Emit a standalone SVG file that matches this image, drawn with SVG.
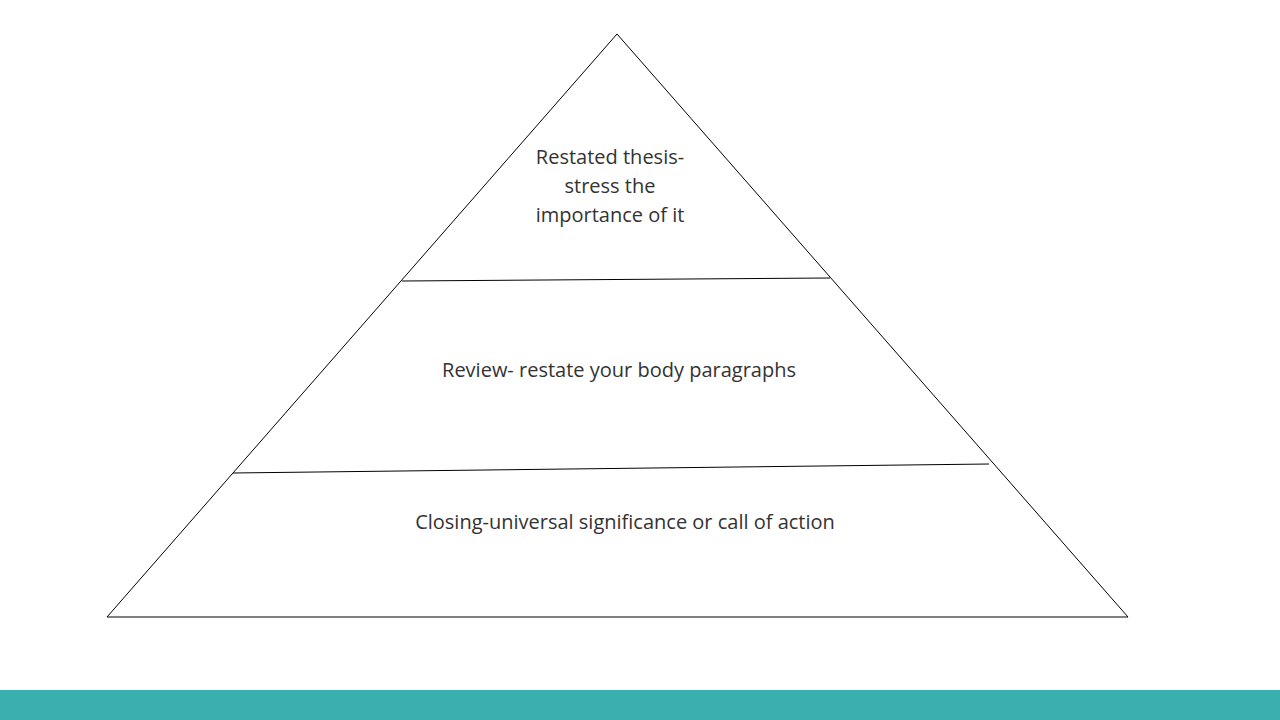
<svg xmlns="http://www.w3.org/2000/svg" width="1280" height="720" viewBox="0 0 1280 720">
<style>
.l{stroke:#000;stroke-width:1;fill:none}
.t{font-family:"Open Sans","Liberation Sans",sans-serif;font-size:20px;fill:#333;text-anchor:middle}
</style>
<rect width="1280" height="720" fill="#fff"/>
<g id="pyramid"><polygon class="l" points="617,34 1128,617 107,617"/></g>
<g id="connectors">
<line class="l" x1="402" y1="281" x2="830" y2="278"/>
<line class="l" x1="233" y1="473" x2="989" y2="464"/>
</g>
<g id="top"><text class="t" x="610" y="164">Restated thesis-</text><text class="t" x="610" y="193">stress the</text><text class="t" x="610" y="222">importance of it</text></g>
<g id="middle"><text class="t" x="619" y="377">Review- restate your body paragraphs</text></g>
<g id="bottom"><text class="t" x="625" y="529">Closing-universal significance or call of action</text></g>
<rect x="0" y="690" width="1280" height="30" fill="#3aafb0"/>
</svg>
